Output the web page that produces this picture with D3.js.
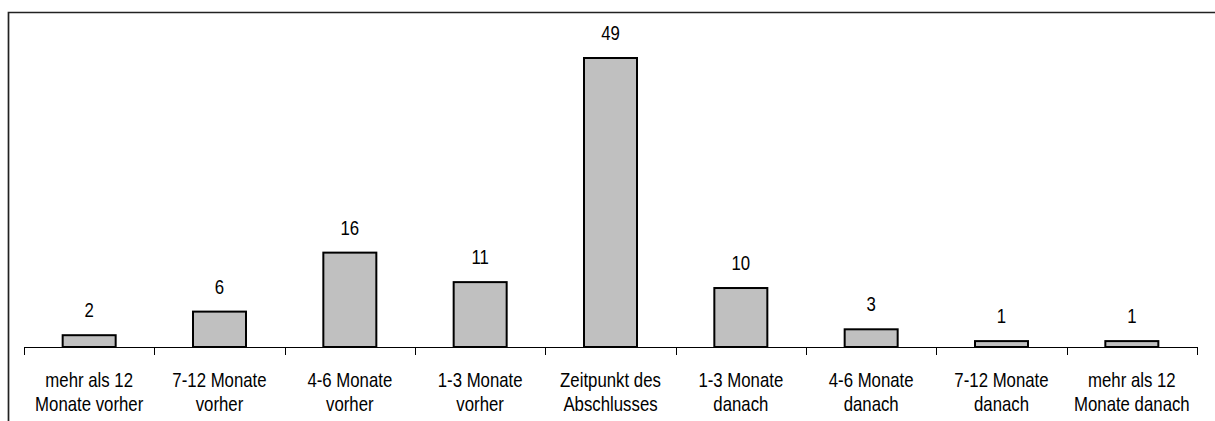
<!DOCTYPE html>
<html><head><meta charset="utf-8">
<script src="https://cdn.jsdelivr.net/npm/d3@7"></script>
<style>
html,body{margin:0;padding:0;background:#fff;}
svg{display:block;}
</style></head>
<body>
<svg id="chart" width="1215" height="421"></svg>
<script>
const categories = [
  ["mehr als 12","Monate vorher"],
  ["7-12 Monate","vorher"],
  ["4-6 Monate","vorher"],
  ["1-3 Monate","vorher"],
  ["Zeitpunkt des","Abschlusses"],
  ["1-3 Monate","danach"],
  ["4-6 Monate","danach"],
  ["7-12 Monate","danach"],
  ["mehr als 12","Monate danach"]
];
const values = [2, 6, 16, 11, 49, 10, 3, 1, 1];

const svg = d3.select("#chart");
const font = "'Liberation Sans',Arial,sans-serif";
const sx = 0.84, fs = 20;

// frame
svg.append("path").attr("d","M8.5,421 L8.5,12.5 L1215,12.5")
  .attr("fill","none").attr("stroke","#222").attr("stroke-width",1.7);

const x0 = 24, x1 = 1197, axisY = 347;
const keys = categories.map((d,i)=>i);
const x = d3.scaleBand().domain(keys).range([x0,x1]).paddingInner(0).paddingOuter(0);
const y = d3.scaleLinear().domain([0,49]).range([axisY,58]);

const barW = 53;
svg.append("g").selectAll("rect").data(values).join("rect")
  .attr("x",(d,i)=>x(i)+x.bandwidth()/2-barW/2)
  .attr("y",d=>y(d))
  .attr("width",barW)
  .attr("height",d=>axisY-y(d))
  .attr("fill","#c0c0c0").attr("stroke","#000").attr("stroke-width",2);

// axis
const ax = svg.append("g");
ax.append("line").attr("x1",x0).attr("x2",x1).attr("y1",axisY+0.5).attr("y2",axisY+0.5)
  .attr("stroke","#000").attr("stroke-width",1);
const tickPos = keys.map(i=>x(i)).concat([x1]);
ax.selectAll("line.tick").data(tickPos).join("line").attr("class","tick")
  .attr("x1",d=>Math.round(d)+0.5).attr("x2",d=>Math.round(d)+0.5)
  .attr("y1",axisY).attr("y2",axisY+8).attr("stroke","#000").attr("stroke-width",1);

function label(g, cx, cy, txt){
  g.append("text")
    .attr("transform",`translate(${cx},${cy}) scale(${sx},1)`)
    .attr("text-anchor","middle").attr("font-family",font).attr("font-size",fs).attr("fill","#000")
    .text(txt);
}

// category labels
const lab = svg.append("g");
categories.forEach((c,i)=>{
  c.forEach((line,j)=>label(lab, x(i)+x.bandwidth()/2, 387+j*23.5, line));
});

// value labels
const vl = svg.append("g");
values.forEach((v,i)=>label(vl, x(i)+x.bandwidth()/2, y(v)-18, String(v)));
</script>
</body></html>
